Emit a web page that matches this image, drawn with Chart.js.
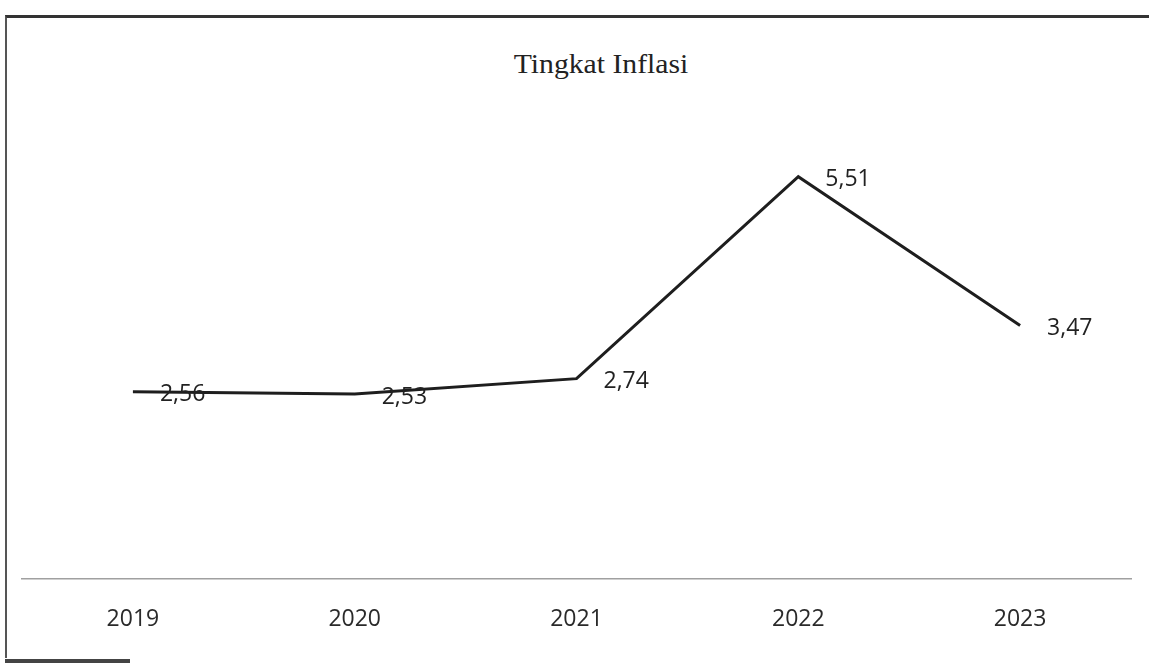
<!DOCTYPE html>
<html>
<head>
<meta charset="utf-8">
<script src="https://cdn.jsdelivr.net/npm/chart.js@4"></script>
<style>
    html, body { margin: 0; padding: 0; background: #fff; }
    #wrap { position: relative; width: 1149px; height: 666px; overflow: hidden; }
    #frame { position: absolute; left: 5px; top: 15px; width: 1160px; height: 640px;
             border-top: 3px solid #333; border-left: 2px solid #555; }
    #frameFoot { position: absolute; left: 5px; top: 659px; width: 125px; height: 4px; background: #444; }
    #title { position: absolute; top: 49px; left: 601px; transform: translateX(-50%) scaleX(1.1);
             font-family: "Liberation Serif", serif; font-size: 27px; color: #222; white-space: nowrap; }
    canvas { position: absolute; left: 0; top: 0; }
</style>
</head>
<body>
<div id="wrap">
    <div id="frame"></div>
    <div id="frameFoot"></div>
    <div id="title">Tingkat Inflasi</div>
    <canvas id="inflasiChart" width="1149" height="666"></canvas>
</div>
<script>
const years = ['2019', '2020', '2021', '2022', '2023'];
const inflasi = [2.56, 2.53, 2.74, 5.51, 3.47];
const yMin = 0;
const yMax = 6;

// labels like Excel: comma decimal, to the right of each point
const valueLabels = {
    id: 'valueLabels',
    afterDatasetsDraw(chart) {
        const ctx = chart.ctx;
        const meta = chart.getDatasetMeta(0);
        ctx.save();
        ctx.font = '23px "Open Sans", sans-serif';
        ctx.fillStyle = '#222';
        ctx.textAlign = 'left';
        ctx.textBaseline = 'middle';
        meta.data.forEach((pt, i) => {
            ctx.fillText(inflasi[i].toFixed(2).replace('.', ','), pt.x + 27, pt.y + 3);
        });
        ctx.restore();
    }
};

new Chart('inflasiChart', {
    type: 'line',
    data: {
        labels: years,
        datasets: [{
            data: inflasi,
            borderColor: '#1e1e1e',
            borderWidth: 3,
            pointRadius: 0,
            tension: 0,
            fill: false
        }]
    },
    options: {
        responsive: false,
        animation: false,
        layout: { padding: { left: 22, right: 18, top: 141, bottom: 14 } },
        plugins: {
            legend: { display: false },
            title: { display: false },
            tooltip: { enabled: false }
        },
        scales: {
            x: {
                offset: true,
                grid: { display: false },
                border: { display: true, color: '#a0a0a0', width: 1.5 },
                ticks: {
                    padding: 19,
                    color: '#2a2a2a',
                    font: { family: '"Open Sans", sans-serif', size: 23 }
                }
            },
            y: {
                display: false,
                min: yMin,
                max: yMax
            }
        }
    },
    plugins: [valueLabels]
});
</script>
</body>
</html>
